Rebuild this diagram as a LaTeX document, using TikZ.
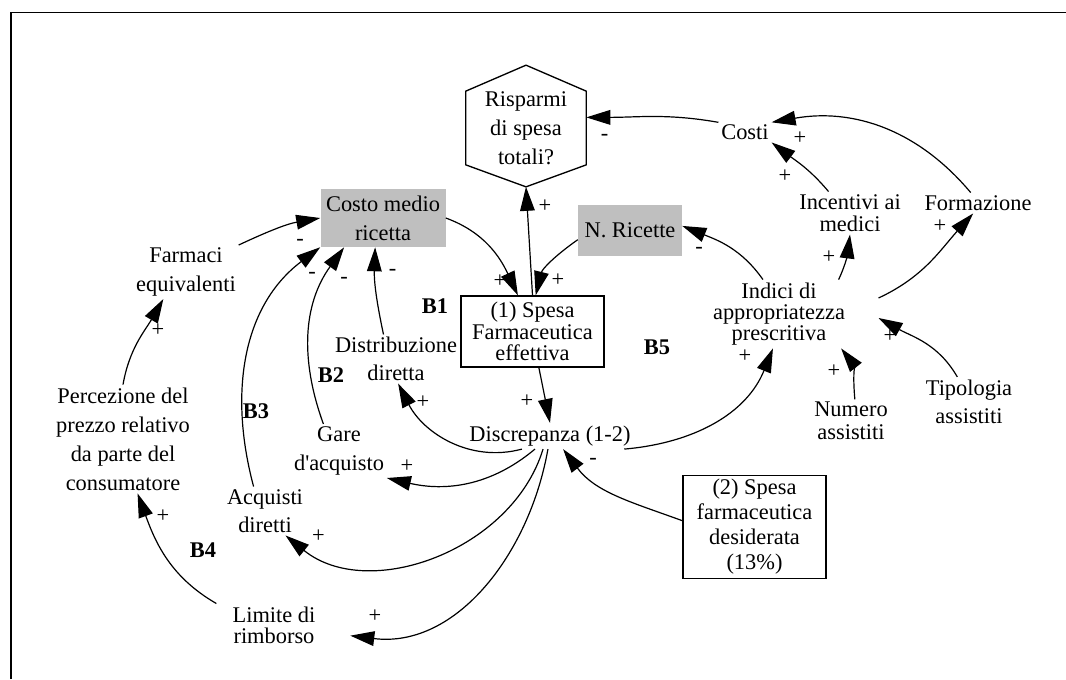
\documentclass[tikz,border=0pt]{standalone}
\usepackage{fontspec}
\setmainfont{Liberation Serif}
\usetikzlibrary{arrows.meta}
\newcommand\fsz[1]{\fontsize{16.8}{#1}\selectfont}

\begin{document}
\begin{tikzpicture}[x=0.75pt,y=-0.75pt,
	txt/.style={align=center,inner sep=2pt,font=\fsz{21.4}},
	gbox/.style={txt,fill=gray!50},
	wbox/.style={txt,draw,line width=1pt},
	pol/.style={inner sep=0pt,font=\fsz{18}},
	loopname/.style={inner sep=0pt,font=\bfseries\fsz{18}},
	arr/.style={-{Triangle[length=18pt,width=11pt]},line width=0.9pt}]
			\useasboundingbox (0,0) rectangle (1066,679);
			\draw[line width=1pt] (11,679) -- (11,12.5) -- (1066,12.5);

			\node[txt,inner sep=0pt,minimum width=90pt,minimum height=54pt,font=\fsz{21.75}] (risp) at (526,128) {Risparmi\\di spesa\\totali?};
			\coordinate (risp-n) at ([yshift=19.5pt]risp.north);
			\coordinate (risp-s) at ([yshift=-16.5pt]risp.south);
			\draw[line width=1pt] (risp-n) -- (risp.north east) -- (risp.south east) -- (risp-s) -- (risp.south west) -- (risp.north west) -- cycle;

			\node[gbox,minimum width=93.75pt,minimum height=43.5pt,font=\fsz{21.75}] (costo) at (383,218) {Costo medio\\ricetta};
			\node[gbox,minimum width=78pt,minimum height=38.25pt] (nric) at (630,230.5) {N. Ricette};
			\node[wbox,minimum width=107.25pt,minimum height=53.25pt,font=\fsz{16}] (spesa) at (532.5,331.5) {(1) Spesa\\Farmaceutica\\effettiva};
			\node[wbox,minimum width=107.25pt,minimum height=77.6pt,font=\fsz{18.75}] (desid) at (754.5,527) {(2) Spesa\\farmaceutica\\desiderata\\(13\%)};
			\node[txt] (discr) at (550,436) {Discrepanza (1-2)};
			\node[txt] (costi) at (745,132) {Costi};
			\node[txt,font=\fsz{16.5}] (incent) at (850,213) {Incentivi ai\\medici};
			\node[txt] (formaz) at (978,203) {Formazione};
			\node[txt,font=\fsz{16}] (indici) at (779,314) {Indici di\\appropriatezza\\prescritiva};
			\node[txt,font=\fsz{17}] (numero) at (851,421) {Numero\\assistiti};
			\node[txt] (tipol) at (969,402) {Tipologia\\assistiti};
			\node[txt] (farm) at (186,272) {Farmaci\\equivalenti};
			\node[txt,font=\fsz{21.8}] (perc) at (123,439) {Percezione del\\prezzo relativo\\da parte del\\consumatore};
			\node[txt,font=\fsz{20.6}] (distr) at (396,359) {Distribuzione\\diretta};
			\node[txt] (gare) at (339,451) {Gare\\d\textquotesingle acquisto};
			\node[txt,font=\fsz{21}] (acq) at (265,511) {Acquisti\\diretti};
			\node[txt,font=\fsz{16}] (limite) at (274,625) {Limite di\\rimborso};

			\draw[arr] (farm.north east) to[out=25,in=190] (costo.west);
			\draw[arr] (perc.north) to[out=80,in=240] (farm.-130);
			\draw[arr] ([xshift=-10pt]limite.north west) to[out=150,in=-70] (perc.-75);
			\draw[arr] (acq.115) to[out=105,in=217] (costo.south west);
			\draw[arr] (gare.120) to[out=110,in=234] (costo.-143);
			\draw[arr] (distr.117) to[out=102,in=-92] (costo.-105);
			\draw[arr] (costo.east) to[out=-20,in=115] (spesa.112);
			\draw[arr] (nric.190) to[out=215,in=76] (spesa.85);
			\draw[arr] (spesa.north) -- (risp-s);
			\draw[arr] (spesa.-80) -- (discr.north);
			\draw[arr] (desid.175) to[out=160,in=-53] (discr.-45);
			\draw[arr] (discr.-155) to[out=195,in=-63] (distr.-85);
			\draw[arr] (discr.-139) to[out=220,in=-13] (gare.south east);
			\draw[arr] (discr.-118) to[out=253,in=-39] (acq.-50);
			\draw[arr] (discr.-99) to[out=-100,in=-7] ([xshift=24pt,yshift=-8pt]limite.east);
			\draw[arr] (discr.-10) to[out=5,in=-112] (indici.-100);
			\draw[arr] (indici.115) to[out=125,in=-22] (nric.5);
			\draw[arr] (indici.30) to[out=65,in=-97] (incent.south);
			\draw[arr] ([xshift=23pt,yshift=12pt]indici.east) to[out=25,in=-132] (formaz.-115);
			\draw[arr] (tipol.115) to[out=120,in=-29] ([xshift=23pt,yshift=-3pt]indici.east);
			\draw[arr] (numero.80) to[out=95,in=-52] (indici.-29);
			\draw[arr] (formaz.125) to[out=130,in=10] (costi.20);
			\draw[arr] (incent.135) to[out=130,in=-37] (costi.south east);
			\draw[arr] (costi.160) to[out=170,in=0] (risp.10);

			\node[pol] (s-costi-risp) at (604.5,137) {-};
			\node[pol] (s-formaz-costi) at (800,138) {+};
			\node[pol] (s-incent-costi) at (785,176) {+};
			\node[pol] (s-spesa-risp) at (545,206) {+};
			\node[pol] (s-costo-spesa) at (500,281) {+};
			\node[pol] (s-nric-spesa) at (558,280) {+};
			\node[pol] (s-indici-nric) at (699,250) {-};
			\node[pol] (s-indici-incent) at (829,257) {+};
			\node[pol] (s-indici-formaz) at (940,226) {+};
			\node[pol] (s-tipol-indici) at (890,336) {+};
			\node[pol] (s-numero-indici) at (834,371) {+};
			\node[pol] (s-discr-indici) at (745,356) {+};
			\node[pol] (s-desid-discr) at (593,461) {-};
			\node[pol] (s-spesa-discr) at (527,401) {+};
			\node[pol] (s-discr-distr) at (423,402) {+};
			\node[pol] (s-discr-gare) at (407,466) {+};
			\node[pol] (s-discr-acq) at (318.5,536) {+};
			\node[pol] (s-discr-limite) at (375,616) {+};
			\node[pol] (s-limite-perc) at (163,516) {+};
			\node[pol] (s-perc-farm) at (158,330) {+};
			\node[pol] (s-farm-costo) at (300,242) {-};
			\node[pol] (s-acq-costo) at (312,275.5) {-};
			\node[pol] (s-gare-costo) at (344,280) {-};
			\node[pol] (s-distr-costo) at (392.6,272) {-};

			\node[loopname] (b1) at (435,306) {B1};
			\node[loopname] (b2) at (331,375) {B2};
			\node[loopname] (b3) at (256,411) {B3};
			\node[loopname] (b4) at (203,550) {B4};
			\node[loopname] (b5) at (657,347) {B5};
		\end{tikzpicture}
\end{document}
